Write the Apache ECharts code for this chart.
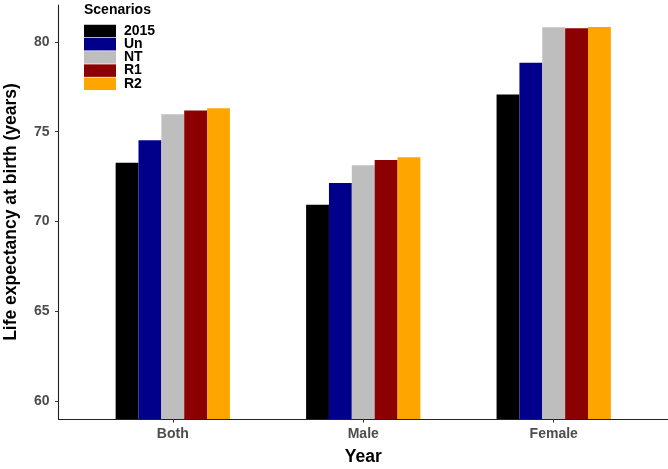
<!DOCTYPE html>
<html>
<head>
<meta charset="utf-8">
<script src="https://cdn.jsdelivr.net/npm/echarts@6/dist/echarts.min.js"></script>
<style>
  html, body { margin: 0; padding: 0; background: #fff; }
  #chart { width: 668px; height: 469px; }
</style>
</head>
<body>
<div id="chart"></div>
<script>
const categories = ['Both', 'Male', 'Female'];
const scenarios = ['2015', 'Un', 'NT', 'R1', 'R2'];
const colors = ['#000000', '#00008B', '#BEBEBE', '#8B0000', '#FFA500'];
const values2015 = [73.27, 70.93, 77.07];
const valuesUn = [74.53, 72.14, 78.84];
const valuesNT = [75.97, 73.13, 80.82];
const valuesR1 = [76.18, 73.42, 80.77];
const valuesR2 = [76.31, 73.58, 80.84];
const yTicks = [60, 65, 70, 75, 80];

const seriesValues = [values2015, valuesUn, valuesNT, valuesR1, valuesR2];
const catPos = categories.map((c, i) => i + 1);
const font = '"Liberation Sans", Arial, sans-serif';

const chart = echarts.init(document.getElementById('chart'));

chart.setOption({
  animation: false,
  title: {
    text: 'Scenarios',
    left: 84,
    top: 3,
    padding: 0,
    textStyle: { fontFamily: font, fontWeight: 'bold', fontSize: 14, color: '#000' }
  },
  legend: {
    orient: 'vertical',
    left: 84,
    top: 24,
    padding: 0,
    itemWidth: 32,
    itemHeight: 12.5,
    itemGap: -0.8,
    icon: 'rect',
    data: scenarios,
    textStyle: { fontFamily: font, fontWeight: 'bold', fontSize: 14, color: '#000', padding: [0, 0, 0, 3] }
  },
  grid: { left: 58.5, right: 0, top: 5, bottom: 50, containLabel: false, outerBoundsMode: 'none' },
  xAxis: {
    type: 'value',
    min: 0.4,
    max: 3.6,
    name: 'Year',
    nameLocation: 'middle',
    nameGap: 29,
    nameTextStyle: { fontFamily: font, fontWeight: 'bold', fontSize: 17.5, color: '#000' },
    axisLine: { show: true, lineStyle: { color: '#222', width: 1.1 } },
    axisTick: { show: true, customValues: catPos, length: 3.5, lineStyle: { color: '#333' } },
    axisLabel: {
      customValues: catPos,
      margin: 8,
      formatter: v => categories[Math.round(v) - 1] || '',
      fontFamily: font, fontWeight: 'bold', fontSize: 14, color: '#4D4D4D'
    },
    splitLine: { show: false }
  },
  yAxis: {
    type: 'value',
    min: 59,
    max: 82.06,
    name: 'Life expectancy at birth (years)',
    nameLocation: 'middle',
    nameGap: 38,
    nameTextStyle: { fontFamily: font, fontWeight: 'bold', fontSize: 17.5, color: '#000' },
    axisLine: { show: true, lineStyle: { color: '#222', width: 1.1 } },
    axisTick: { show: true, customValues: yTicks, length: 3.5, lineStyle: { color: '#333' } },
    axisLabel: {
      customValues: yTicks,
      margin: 9,
      fontFamily: font, fontWeight: 'bold', fontSize: 14, color: '#4D4D4D'
    },
    splitLine: { show: false }
  },
  series: scenarios.map((name, i) => ({
    name: name,
    type: 'bar',
    barWidth: 22.86,
    barGap: '0%',
    itemStyle: { color: colors[i] },
    data: seriesValues[i].map((v, j) => [catPos[j], v])
  }))
});
</script>
</body>
</html>
